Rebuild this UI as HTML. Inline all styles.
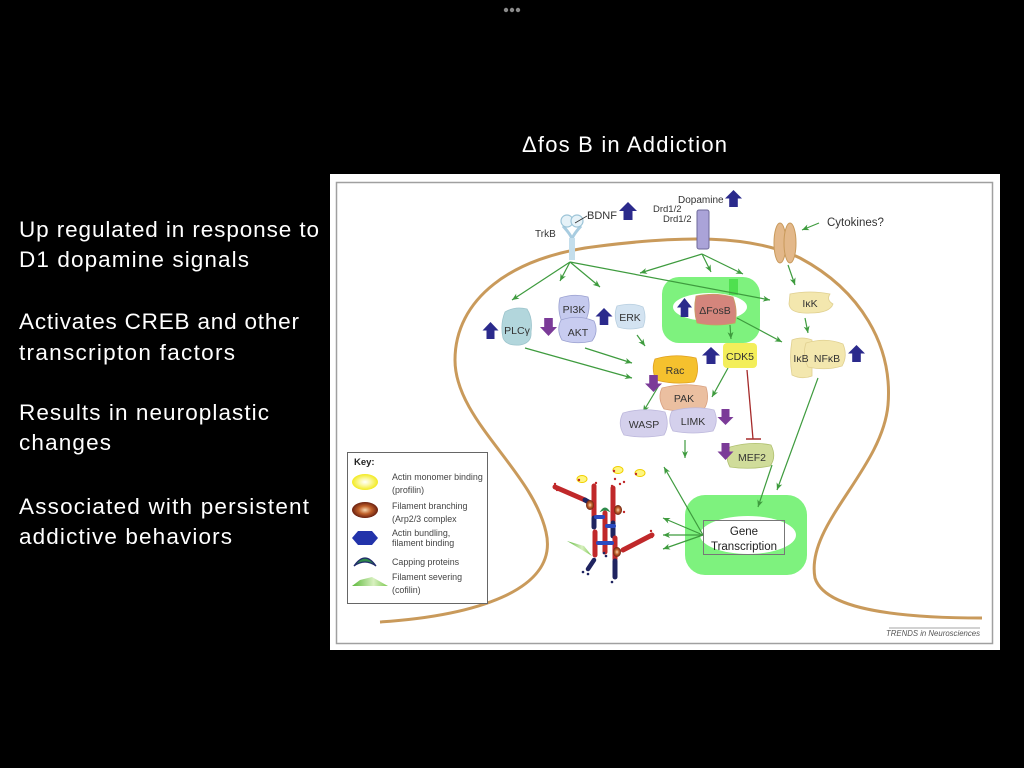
<!DOCTYPE html>
<html>
<head>
<meta charset="utf-8">
<style>
html,body{margin:0;padding:0;background:#000;width:1024px;height:768px;overflow:hidden;}
svg{position:absolute;left:0;top:0;}
text{font-family:"Liberation Sans",Arial,sans-serif;}
</style>
</head>
<body>
<svg width="1024" height="768" viewBox="0 0 1024 768" xmlns="http://www.w3.org/2000/svg">
<defs>
  <marker id="ah" markerWidth="8" markerHeight="8" refX="7" refY="4" orient="auto" markerUnits="userSpaceOnUse">
    <path d="M0,1 L7,4 L0,7 L2,4 Z" fill="#3e9b3e"/>
  </marker>
  <radialGradient id="gy" cx="50%" cy="50%" r="50%">
    <stop offset="0" stop-color="#ffffff"/>
    <stop offset="0.45" stop-color="#fbf8a0"/>
    <stop offset="1" stop-color="#f2ea20"/>
  </radialGradient>
  <radialGradient id="gb" cx="50%" cy="50%" r="50%">
    <stop offset="0" stop-color="#f8d8b0"/>
    <stop offset="0.5" stop-color="#c0602a"/>
    <stop offset="1" stop-color="#6a2010"/>
  </radialGradient>
  <linearGradient id="gg" x1="0" y1="0" x2="1" y2="0">
    <stop offset="0" stop-color="#5cb83a"/>
    <stop offset="0.6" stop-color="#d8f0c0"/>
    <stop offset="1" stop-color="#7cc850"/>
  </linearGradient>
</defs>

<!-- three dots -->
<circle cx="506" cy="10" r="2.2" fill="#8a8a8a"/>
<circle cx="512" cy="10" r="2.2" fill="#8a8a8a"/>
<circle cx="518" cy="10" r="2.2" fill="#8a8a8a"/>

<!-- title -->
<text x="522" y="152" font-size="22" fill="#fff" textLength="205" lengthAdjust="spacing">Δfos B in Addiction</text>

<!-- left text -->
<g font-size="22.5" fill="#fff">
  <text x="19" y="237" textLength="300" lengthAdjust="spacing">Up regulated in response to</text>
  <text x="19" y="267" textLength="230" lengthAdjust="spacing">D1 dopamine signals</text>
  <text x="19" y="329" textLength="280" lengthAdjust="spacing">Activates CREB and other</text>
  <text x="19" y="360" textLength="216" lengthAdjust="spacing">transcripton factors</text>
  <text x="19" y="420" textLength="250" lengthAdjust="spacing">Results in neuroplastic</text>
  <text x="19" y="450" textLength="92" lengthAdjust="spacing">changes</text>
  <text x="19" y="514" textLength="290" lengthAdjust="spacing">Associated with persistent</text>
  <text x="19" y="544" textLength="213" lengthAdjust="spacing">addictive behaviors</text>
</g>

<!-- figure background -->
<rect x="330" y="174" width="670" height="476" fill="#fff"/>
<rect x="336.5" y="182.5" width="656" height="461" fill="none" stroke="#a0a0a0" stroke-width="1.5"/>

<!-- membrane -->
<path d="M380,622 C470,616 560,592 546,532 C532,470 455,420 455,360 C455,300 510,256 600,246 C680,236 750,234 800,258 C860,290 893,345 888,405 C882,470 805,525 815,578 C825,610 900,618 982,618" fill="none" stroke="#c99a5b" stroke-width="3"/>

<!-- green highlights -->
<rect x="662" y="277" width="98" height="66" rx="17" fill="#7ef27e"/>
<ellipse cx="710" cy="307" rx="37" ry="14" fill="#fff"/>
<rect x="729" y="279" width="9" height="16" fill="#4fe04f"/>
<rect x="685" y="495" width="122" height="80" rx="20" fill="#7ef27e"/>
<ellipse cx="748" cy="535" rx="48" ry="19" fill="#fff"/>

<!-- receptors -->
<path d="M563,226 Q572,236 572,240 M581,226 Q572,236 572,240" fill="none" stroke="#a8cce0" stroke-width="3"/>
<rect x="569" y="238" width="6" height="22" fill="#c4deec"/>
<circle cx="567" cy="221" r="6" fill="#e6f2f8" stroke="#9cc4d8" stroke-width="1.2"/>
<circle cx="577" cy="221" r="6" fill="#e6f2f8" stroke="#9cc4d8" stroke-width="1.2"/>
<line x1="587" y1="216" x2="575" y2="223" stroke="#333" stroke-width="0.8"/>
<rect x="697" y="210" width="12" height="39" rx="2" fill="#aaa3d8" stroke="#6e6a9a" stroke-width="1"/>
<ellipse cx="780" cy="243" rx="6" ry="20" fill="#e3b88a" stroke="#c99a5b" stroke-width="1"/>
<ellipse cx="790" cy="243" rx="6" ry="20" fill="#e3b88a" stroke="#c99a5b" stroke-width="1"/>

<!-- labels top -->
<g font-size="11" fill="#333">
  <text x="587" y="219">BDNF</text>
  <text x="535" y="237" font-size="10">TrkB</text>
  <text x="678" y="203" font-size="10">Dopamine</text>
  <text x="653" y="212" font-size="9.5">Drd1/2</text>
  <text x="663" y="222" font-size="9.5">Drd1/2</text>
  <text x="827" y="226" font-size="11.5">Cytokines?</text>
</g>

<!-- green arrows -->
<g stroke="#3e9b3e" stroke-width="1.2" fill="none" marker-end="url(#ah)">
  <line x1="570" y1="262" x2="512" y2="300"/>
  <line x1="570" y1="262" x2="560" y2="281"/>
  <line x1="570" y1="262" x2="600" y2="287"/>
  <line x1="570" y1="262" x2="770" y2="300"/>
  <line x1="702" y1="254" x2="640" y2="273"/>
  <line x1="702" y1="254" x2="711" y2="272"/>
  <line x1="702" y1="254" x2="743" y2="274"/>
  <line x1="819" y1="223" x2="802" y2="230"/>
  <line x1="788" y1="265" x2="795" y2="285"/>
  <line x1="805" y1="318" x2="808" y2="333"/>
  <line x1="737" y1="318" x2="782" y2="342"/>
  <line x1="730" y1="325" x2="731" y2="339"/>
  <line x1="728" y1="368" x2="712" y2="397"/>
  <line x1="525" y1="348" x2="632" y2="378"/>
  <line x1="585" y1="348" x2="632" y2="363"/>
  <line x1="637" y1="335" x2="645" y2="346"/>
  <line x1="658" y1="387" x2="643" y2="412"/>
  <line x1="685" y1="440" x2="685" y2="458"/>
  <line x1="772" y1="465" x2="758" y2="507"/>
  <line x1="818" y1="378" x2="777" y2="490"/>
  <line x1="703" y1="535" x2="664" y2="467"/>
  <line x1="703" y1="535" x2="663" y2="518"/>
  <line x1="703" y1="535" x2="663" y2="535"/>
  <line x1="703" y1="535" x2="663" y2="549"/>
</g>

<!-- inhibition -->
<line x1="747" y1="370" x2="753" y2="439" stroke="#a52a2a" stroke-width="1.3"/>
<line x1="746" y1="439" x2="761" y2="439" stroke="#a52a2a" stroke-width="1.5"/>

<!-- nodes -->
<path d="M505,312 Q515,306 527,309 Q533,318 531,332 Q532,343 520,345 Q506,346 503,338 Q500,324 505,312 Z" fill="#b2d6dc" stroke="#9cc4cc" stroke-width="0.8"/>
<path d="M560,298 Q574,293 588,297 Q591,308 586,320 L562,322 Q557,310 560,298 Z" fill="#c5caee" stroke="#9aa0d0" stroke-width="0.8"/>
<path d="M561,320 Q578,314 594,321 Q599,332 592,341 Q576,345 562,340 Q556,330 561,320 Z" fill="#c8ccf0" stroke="#9aa0d0" stroke-width="0.8"/>
<path d="M617,306 Q632,302 643,307 Q647,317 643,327 Q630,331 618,327 Q613,316 617,306 Z" fill="#d3e3f1" stroke="#b8cfe0" stroke-width="0.8"/>
<path d="M696,296 Q715,292 733,297 Q738,310 735,323 Q716,327 697,323 Q693,310 696,296 Z" fill="#d4857c" stroke="#c8a060" stroke-width="0.8"/>
<rect x="723" y="343" width="34" height="25" rx="4" fill="#f3ee5a"/>
<path d="M790,294 Q810,290 830,294 Q826,300 833,304 Q830,313 810,313 Q790,314 789,304 Z" fill="#f3e7ae" stroke="#e0d090" stroke-width="0.8"/>
<path d="M792,340 Q802,336 812,340 L812,376 Q802,380 792,375 Q789,358 792,340 Z" fill="#f3e7ae" stroke="#e0d090" stroke-width="0.8"/>
<path d="M806,343 Q826,337 843,344 Q848,356 842,366 Q826,371 808,367 Q802,355 806,343 Z" fill="#f3e7ae" stroke="#e0d090" stroke-width="0.8"/>
<path d="M655,359 Q674,353 696,358 Q700,372 694,382 Q674,385 656,380 Q651,369 655,359 Z" fill="#f5c12e" stroke="#e0a020" stroke-width="0.8"/>
<path d="M662,388 Q684,382 706,387 Q710,400 704,409 Q683,413 664,409 Q657,398 662,388 Z" fill="#ebbfa0" stroke="#d8a080" stroke-width="0.8"/>
<path d="M623,413 Q644,407 665,412 Q670,425 664,435 Q643,439 624,435 Q617,424 623,413 Z" fill="#d4d0ec" stroke="#bdb8dc" stroke-width="0.8"/>
<path d="M672,411 Q694,405 714,410 Q719,421 713,431 Q693,435 673,431 Q667,421 672,411 Z" fill="#d4d0ec" stroke="#bdb8dc" stroke-width="0.8"/>
<path d="M730,447 Q752,441 771,445 Q777,457 770,466 Q750,470 730,467 Q724,456 730,447 Z" fill="#d0dc9a" stroke="#b0c070" stroke-width="0.8"/>

<!-- node labels -->
<g font-size="10.5" fill="#333" text-anchor="middle">
  <text x="517" y="334">PLCγ</text>
  <text x="574" y="313">PI3K</text>
  <text x="578" y="336">AKT</text>
  <text x="630" y="321">ERK</text>
  <text x="715" y="314">ΔFosB</text>
  <text x="740" y="360">CDK5</text>
  <text x="810" y="307">IκK</text>
  <text x="801" y="362">IκB</text>
  <text x="827" y="362">NFκB</text>
  <text x="675" y="374">Rac</text>
  <text x="684" y="402">PAK</text>
  <text x="644" y="428">WASP</text>
  <text x="693" y="425">LIMK</text>
  <text x="752" y="461">MEF2</text>
</g>

<!-- gene transcription box -->
<rect x="703.5" y="520.5" width="81" height="34" fill="none" stroke="#777" stroke-width="1"/>
<g font-size="11.5" fill="#222" text-anchor="middle">
  <text x="744" y="535">Gene</text>
  <text x="744" y="550">Transcription</text>
</g>

<!-- blue up arrows -->
<g fill="#2b2a8c">
  <path d="M628,202 L637,211 L632.5,211 L632.5,220 L623.5,220 L623.5,211 L619,211 Z"/>
  <path d="M733.5,190 L742,198.5 L737.8,198.5 L737.8,207 L729.2,207 L729.2,198.5 L725,198.5 Z"/>
  <path d="M490.5,322 L498.5,330.5 L494.5,330.5 L494.5,339 L486.5,339 L486.5,330.5 L482.5,330.5 Z"/>
  <path d="M604,308 L612.5,316.5 L608.3,316.5 L608.3,325 L599.7,325 L599.7,316.5 L595.5,316.5 Z"/>
  <path d="M684.5,298 L692,307.5 L688.3,307.5 L688.3,317 L680.7,317 L680.7,307.5 L677,307.5 Z"/>
  <path d="M711,347 L720,355.5 L715.5,355.5 L715.5,364 L706.5,364 L706.5,355.5 L702,355.5 Z"/>
  <path d="M856.5,345 L865,353.5 L860.8,353.5 L860.8,362 L852.2,362 L852.2,353.5 L848,353.5 Z"/>
</g>
<!-- purple down arrows -->
<g fill="#7b3b98">
  <path d="M548.5,336 L557,327 L552.8,327 L552.8,318 L544.2,318 L544.2,327 L540,327 Z"/>
  <path d="M653.5,392 L662,383.5 L657.8,383.5 L657.8,375 L649.2,375 L649.2,383.5 L645,383.5 Z"/>
  <path d="M725.5,425 L733.5,417 L729.5,417 L729.5,409 L721.5,409 L721.5,417 L717.5,417 Z"/>
  <path d="M725.5,460 L733.5,451.5 L729.5,451.5 L729.5,443 L721.5,443 L721.5,451.5 L717.5,451.5 Z"/>
</g>

<!-- actin network -->
<g stroke-linecap="round">
  <line x1="555" y1="487" x2="585" y2="500" stroke="#c0282a" stroke-width="5"/>
  <line x1="585" y1="500" x2="592" y2="504" stroke="#1f2460" stroke-width="5"/>
  <line x1="594" y1="486" x2="594" y2="516" stroke="#c0282a" stroke-width="5"/>
  <line x1="594" y1="518" x2="594" y2="527" stroke="#1f2460" stroke-width="5"/>
  <line x1="613" y1="488" x2="613" y2="521" stroke="#c0282a" stroke-width="5"/>
  <line x1="613" y1="523" x2="613" y2="536" stroke="#1f2460" stroke-width="5"/>
  <line x1="605" y1="513" x2="605" y2="552" stroke="#c0282a" stroke-width="5"/>
  <line x1="595" y1="532" x2="595" y2="555" stroke="#c0282a" stroke-width="5"/>
  <line x1="615" y1="538" x2="615" y2="559" stroke="#c0282a" stroke-width="5"/>
  <line x1="615" y1="561" x2="615" y2="577" stroke="#1f2460" stroke-width="5"/>
  <line x1="623" y1="550" x2="652" y2="535" stroke="#c0282a" stroke-width="5"/>
  <line x1="594" y1="560" x2="588" y2="569" stroke="#1f2460" stroke-width="4.5"/>
  <line x1="596" y1="517" x2="603" y2="517" stroke="#2a4ac0" stroke-width="4"/>
  <line x1="607" y1="526" x2="614" y2="526" stroke="#2a4ac0" stroke-width="4"/>
  <line x1="598" y1="543" x2="612" y2="543" stroke="#2a4ac0" stroke-width="4"/>
</g>
<ellipse cx="590" cy="505" rx="4" ry="5" fill="url(#gb)"/>
<ellipse cx="618" cy="510" rx="4" ry="5" fill="url(#gb)"/>
<ellipse cx="617" cy="552" rx="4" ry="5" fill="url(#gb)"/>
<path d="M601,511 Q605,505 609,511 Q605,509 601,511 Z" fill="#2e8a4a" stroke="#2e8a4a" stroke-width="1"/>
<polygon points="567,541 592,556 584,546" fill="url(#gg)"/>
<g fill="#fff680" stroke="#f0d000" stroke-width="1">
  <ellipse cx="582" cy="479" rx="5" ry="3.5"/>
  <ellipse cx="618" cy="470" rx="5" ry="3.5"/>
  <ellipse cx="640" cy="473" rx="5" ry="3.5"/>
</g>
<g fill="#c0282a">
  <circle cx="579" cy="480" r="1.2"/><circle cx="614" cy="471" r="1.2"/><circle cx="636" cy="474" r="1.2"/>
  <circle cx="555" cy="484" r="1.2"/><circle cx="557" cy="490" r="1.2"/><circle cx="615" cy="479" r="1.2"/>
  <circle cx="620" cy="484" r="1.2"/><circle cx="624" cy="482" r="1.2"/><circle cx="612" cy="486" r="1.2"/>
  <circle cx="624" cy="512" r="1.2"/><circle cx="651" cy="531" r="1.2"/><circle cx="652" cy="537" r="1.2"/>
  <circle cx="596" cy="483" r="1.2"/>
</g>
<g fill="#1f2460">
  <circle cx="583" cy="572" r="1.3"/><circle cx="588" cy="574" r="1.3"/><circle cx="612" cy="582" r="1.3"/>
  <circle cx="606" cy="556" r="1.3"/><circle cx="604" cy="553" r="1.3"/>
</g>

<!-- key -->
<rect x="347.5" y="452.5" width="140" height="151" fill="#fff" stroke="#666" stroke-width="1"/>
<text x="354" y="465" font-size="9.5" font-weight="bold" fill="#222">Key:</text>
<ellipse cx="365" cy="482" rx="13" ry="8" fill="url(#gy)"/>
<ellipse cx="365" cy="510" rx="13" ry="8" fill="url(#gb)"/>
<polygon points="352,538 358,531 372,531 378,538 372,545 358,545" fill="#2233aa"/>
<path d="M354,566 Q365,550 376,566 Q365,558 354,566 Z" fill="#2e8a4a" stroke="#1f2a6a" stroke-width="1.2"/>
<polygon points="352,586 388,586 372,577 360,580" fill="url(#gg)"/>
<g font-size="8.9" fill="#444">
  <text x="392" y="480">Actin monomer binding</text>
  <text x="392" y="493">(profilin)</text>
  <text x="392" y="509">Filament branching</text>
  <text x="392" y="522">(Arp2/3 complex</text>
  <text x="392" y="536">Actin bundling,</text>
  <text x="392" y="546">filament binding</text>
  <text x="392" y="565">Capping proteins</text>
  <text x="392" y="580">Filament severing</text>
  <text x="392" y="593">(cofilin)</text>
</g>

<!-- credit -->
<line x1="889" y1="628" x2="980" y2="628" stroke="#888" stroke-width="0.7"/>
<text x="980" y="636" font-size="7.8" font-style="italic" fill="#555" text-anchor="end">TRENDS in Neurosciences</text>
</svg>
</body>
</html>
